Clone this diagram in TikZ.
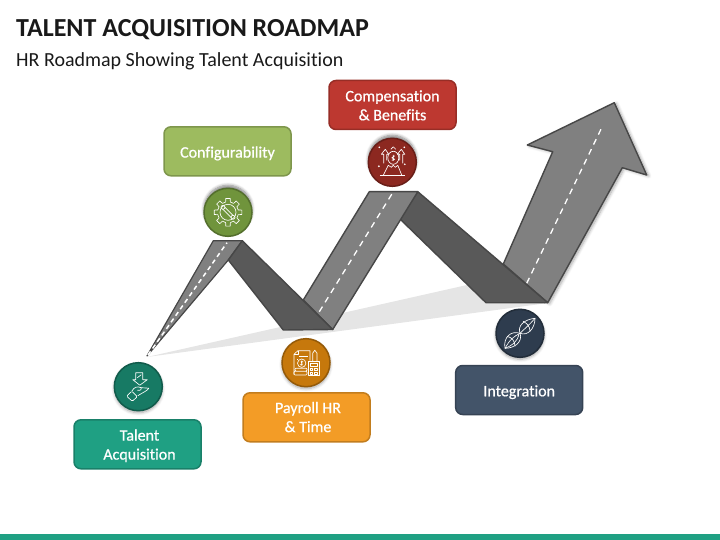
\documentclass[tikz,border=0pt]{standalone}
\usepackage{fontspec}
\setmainfont{Carlito}[Ligatures=NoCommon]
\newfontfamily\boxfont{Carlito}[Ligatures=NoCommon,FakeBold=.7]
\usetikzlibrary{shadows.blur}
\definecolor{teal1}{HTML}{1FA083}
\definecolor{teal2}{HTML}{177A64}
\definecolor{green1}{HTML}{9DBB5F}
\definecolor{green2}{HTML}{70943C}
\definecolor{red1}{HTML}{BD3830}
\definecolor{red2}{HTML}{8C2820}
\definecolor{orange1}{HTML}{F39C26}
\definecolor{orange2}{HTML}{C6780C}
\definecolor{navy1}{HTML}{435469}
\definecolor{navy2}{HTML}{2E3C4E}
\newcommand{\boxtext}[2]{\raisebox{-#1pt}[\height][\depth]{\begin{tabular}{@{}c@{}}#2\end{tabular}}}
\tikzset{
  label box/.style={draw=#1!80!black,line width=1.5pt,rounded corners=7pt,
    minimum width=127pt,minimum height=49pt,inner xsep=0pt,text=white,
    font=\boxfont\fontsize{16}{19}\selectfont,fill=#1},
  badge/.style={circle,draw=#1!75!black,line width=1.5pt,fill=#1,minimum size=48pt,inner sep=0pt,
    blur shadow={shadow xshift=0pt,shadow yshift=-2pt,shadow blur steps=6,shadow blur radius=3pt,shadow opacity=35}},
  badge up/.style={circle,draw=#1!75!black,line width=1.5pt,fill=#1,minimum size=48pt,inner sep=0pt,
    blur shadow={shadow xshift=0pt,shadow yshift=3pt,shadow blur steps=6,shadow blur radius=3pt,shadow opacity=50}},
  road/.style={draw=black!72,line width=1.4pt,line join=round,fill=black!50},
  fold/.style={draw=black!72,line width=1.4pt,line join=round,fill=black!65},
  lane/.style={draw=white,line width=1.3pt,dash pattern=on 6pt off 5pt},
  icon/.style={draw=white,line width=.65pt,line join=round,fill=none},
  pics/hand icon/.style={code={
    \draw[icon] (-2.5,-14) -- (4.5,-14) -- (4.5,-7) -- (9,-7) -- (1.5,-1.5) -- (-5.5,-7) -- (-2.5,-7) -- cycle;
    \draw[icon] (-1,-9) -- (3,-12);
    \draw[icon,rounded corners=1pt] (-11.7,9.5) -- (-6.5,4.5) -- (-1,10) -- (-6,14.5) -- cycle;
    \draw[icon] (-6.5,4.5) .. controls (-4,0) and (-1,-.5) .. (3,1) -- (10.5,1.5) .. controls (9,4) and (6,5) .. (-.5,9);
    \draw[icon] (3,1) .. controls (4,3) and (2,4) .. (-1,3.5);
  }},
  pics/gear icon/.style={code={
    \foreach \a in {0,45,...,315} {
      \draw[icon] (\a-13:10.5) -- (\a-9:14) -- (\a+9:14) -- (\a+13:10.5) -- (\a+32:10.5);
    }
    \draw[icon] (0,0) circle (8);
    \draw[icon] (-5.5,-3.5) -- (3.5,5.5) (-3.5,-5.5) -- (5.5,3.5);
    \draw[icon] (-5,-5) circle (2) (5,5) circle (2);
  }},
  pics/payroll icon/.style={code={
    \draw[icon] (-12,12) -- (-12,-8.5) -- (-8,-12) -- (4,-12) -- (4,-2);
    \draw[icon] (-12,-8.5) -- (-8,-8.5) -- (-8,-12);
    \draw[icon] (-7,-6.5) -- (1.5,-6.5) (-9,-3.5) -- (-8,-3.5);
    \draw[icon] (-4.3,.5) circle (4.2);
    \draw[icon] (-4.3,-2) -- (-4.3,3) (-2.8,-1) .. controls (-5,-2) and (-6,-.5) .. (-4.3,.5) .. controls (-2.5,1.5) and (-4,3) .. (-5.8,2);
    \draw[icon,rounded corners=1pt] (-11,5.5) rectangle (1,8.5) (-12,8.5) rectangle (1,12.3);
    \draw[icon] (2.3,-1) rectangle (13,12.5);
    \draw[icon] (4,1) rectangle (11.3,3.5);
    \draw[icon] (4,5.5) rectangle (6.5,8) (8,5.5) rectangle (11.3,8) (4,9.5) rectangle (6.5,11.3) (8,9.5) rectangle (11.3,11.3);
    \draw[icon] (6.7,-1) -- (6.7,-9.5) -- (8.8,-12.5) -- (11,-9.5) -- (11,-1);
  }},
  pics/peak icon/.style={code={
    \draw[icon] (-12.5,13) -- (12.5,13);
    \draw[icon] (-9,13) -- (-4,3) -- (-1,5) -- (1,3) -- (3,5) -- (5.5,3) -- (9.5,13);
    \draw[icon] (1,-4.5) circle (5.5 and 6.5);
    \draw[icon] (1,-7.5) -- (1,-1.5) (2.5,-6.5) -- (-.5,-4.5) -- (2.5,-3) -- (-.5,-2);
    \draw[icon] (-8.5,1) -- (-8.5,-8) -- (-11,-8) -- (-7,-13) -- (-3.5,-8) -- (-5.5,-8) -- (-5.5,-2);
    \draw[icon] (7.5,-2) -- (7.5,-8) -- (5,-8) -- (9,-13) -- (12.5,-8) -- (10.5,-8) -- (10.5,1);
    \draw[icon] (-1.5,-13) -- (1,-15.5) -- (3.5,-13);
    \fill[white] (-13,-15) circle (.9) (12,-15) circle (.9) (-13.5,4) circle (1) (12.5,2) circle (.9);
  }},
  pics/knot icon/.style={code={
    \draw[icon] (-15,15) .. controls (-17,4) and (-9,-3) .. (0,0) .. controls (3,8) and (-5,15) .. (-15,15);
    \draw[icon] (0,0) .. controls (-3,-8) and (5,-14) .. (15,-15) .. controls (15,-5) and (8,3) .. (0,0);
    \draw[icon] (-15,15) .. controls (-10,6) and (-6,3) .. (0,0);
    \draw[icon] (15,-15) .. controls (9,-8) and (5,-5) .. (0,0);
    \draw[icon] (-15,15) .. controls (-7,12) and (-2,7) .. (-1,1);
    \draw[icon] (-13,3) .. controls (-8,4) and (-5,8) .. (-5,13);
    \draw[icon] (3,-12) .. controls (7,-10) and (10,-7) .. (10,-2);
  }}
}
\begin{document}
\begin{tikzpicture}[x=1pt,y=-1pt]
  \useasboundingbox (0,0) rectangle (720,540);
  \fill[teal1] (0,534) rectangle (720,540);
  \node[anchor=west,inner sep=0pt,font=\bfseries\fontsize{26}{30}\selectfont,text=black!90] (title) at (16,30) {TALENT ACQUISITION ROADMAP};
  \node[anchor=west,inner sep=0pt,font=\fontsize{20}{22}\selectfont,text=black!90] (subtitle) at (16,61.5) {HR Roadmap Showing Talent Acquisition};
  \fill[black!10] (147,357) -- (467,285) -- (548,303) -- cycle;
  \draw[road,blur shadow={shadow xshift=2pt,shadow yshift=-1pt,shadow blur steps=6,shadow blur radius=3pt,shadow opacity=35}]
    (503.3,264) -- (552.7,151.7) -- (527.3,145) -- (614.3,102.7) -- (646.7,175) -- (622.3,167.7) -- (547.7,302.7) -- cycle;
  \draw[lane] (526.7,283.3) -- (601.7,127.7);
  \draw[fold] (417.8,191.7) -- (400,219) -- (486,302.7) -- (547.7,302.7) -- cycle;
  \draw[road] (303.3,300) -- (369.3,191.7) -- (417.8,191.7) -- (332.7,329.5) -- cycle;
  \draw[lane] (319.3,311.7) -- (393.3,191.7);
  \draw[road,line width=1.2pt] (147,356) -- (213.3,240.7) -- (242.3,240.7) -- (228.3,260) -- cycle;
  \draw[lane,line width=1.5pt,dash pattern=on 4.5pt off 3.5pt] (148,355) -- (227,242.7);
  \draw[fold] (242.3,240.7) -- (228.3,260) -- (283.3,330) -- (332.7,329.5) -- cycle;
  \node[label box=teal1] (talent) at (137.5,444.3) {\hspace*{4pt}\boxtext{2}{Talent\\Acquisition}};
  \node[label box=green1] (config) at (227.5,151.3) {\boxtext{2.5}{Configurability}};
  \node[label box=orange1] (payroll) at (306.5,417.3) {\hspace*{3pt}\boxtext{1.5}{Payroll HR\\\& Time}};
  \node[label box=red1] (comp) at (392.5,105) {\boxtext{2}{Compensation\\\& Benefits}};
  \node[label box=navy1] (integ) at (519.2,390) {\boxtext{2.5}{Integration}};
  \node[badge=teal2] (talenticon) at (138.3,386.7) {};
  \node[badge up=green2] (configicon) at (228,212.3) {};
  \node[badge=orange2] (payrollicon) at (306,362.7) {};
  \node[badge up=red2] (compicon) at (392.3,162.3) {};
  \node[badge=navy2] (integicon) at (520,333.3) {};
  \pic at (talenticon) {hand icon};
  \pic at (configicon) {gear icon};
  \pic at (payrollicon) {payroll icon};
  \pic at (compicon) {peak icon};
  \pic at (integicon) {knot icon};
\end{tikzpicture}
\end{document}
